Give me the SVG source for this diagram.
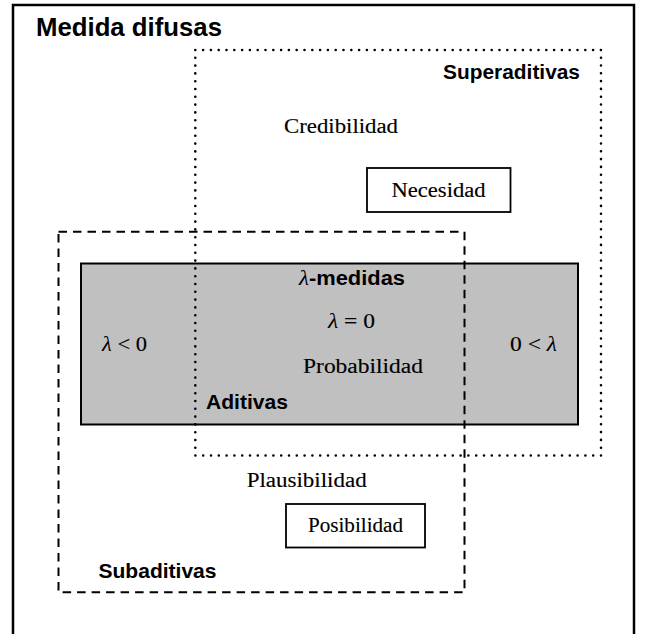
<svg xmlns="http://www.w3.org/2000/svg" width="646" height="634" viewBox="0 0 646 634">
<style>
.frame{fill:none;stroke:#000;stroke-width:2.5}
.dotted{fill:none;stroke:#000;stroke-width:2.6;stroke-linecap:round;stroke-dasharray:0 7.8}
.dashed{fill:none;stroke:#000;stroke-width:2;stroke-dasharray:8.5 6}
.gray{fill:#c0c0c0;stroke:#000;stroke-width:2}
.box{fill:#fff;stroke:#000;stroke-width:1.8}
.title{font-family:"Liberation Sans",Arial,sans-serif;font-weight:bold;fill:#000}
.serif{font-family:"Liberation Serif","Times New Roman",serif;font-size:20px;fill:#000;stroke:#000;stroke-width:0.15}
.ital{font-family:"Liberation Serif","Times New Roman",serif;font-style:italic;stroke:none}
</style>
<rect width="646" height="634" fill="#fff"/>
<g id="outer">
<rect class="frame" x="13" y="5" width="621" height="640"/>
<text class="title" x="36" y="36" font-size="26" textLength="186" lengthAdjust="spacingAndGlyphs">Medida difusas</text>
</g>
<g id="lambda-medidas">
<rect class="gray" x="81" y="263.5" width="497" height="161"/>
<text x="299" y="285" font-size="20" textLength="106" lengthAdjust="spacingAndGlyphs"><tspan class="ital" font-size="21">λ</tspan><tspan class="title">-medidas</tspan></text>
<text class="serif" x="351.5" y="328" text-anchor="middle" textLength="47" lengthAdjust="spacingAndGlyphs"><tspan class="ital">λ</tspan> = 0</text>
<text class="serif" x="124.5" y="351" text-anchor="middle" textLength="45" lengthAdjust="spacingAndGlyphs"><tspan class="ital">λ</tspan> &lt; 0</text>
<text class="serif" x="533.5" y="351" text-anchor="middle" textLength="47" lengthAdjust="spacingAndGlyphs">0 &lt; <tspan class="ital">λ</tspan></text>
<text class="serif" x="363" y="372.5" text-anchor="middle" textLength="120" lengthAdjust="spacingAndGlyphs">Probabilidad</text>
<text class="title" x="206" y="408.5" font-size="20.5" textLength="82" lengthAdjust="spacingAndGlyphs">Aditivas</text>
</g>
<g id="superaditivas">
<rect class="dotted" x="195.3" y="50" width="405.7" height="405.5"/>
<text class="title" x="580" y="78.5" font-size="20" text-anchor="end" textLength="137" lengthAdjust="spacingAndGlyphs">Superaditivas</text>
<text class="serif" x="341" y="133.3" text-anchor="middle" textLength="114" lengthAdjust="spacingAndGlyphs">Credibilidad</text>
</g>
<g id="necesidad">
<rect class="box" x="367" y="168" width="143.5" height="44"/>
<text class="serif" x="438.5" y="197" text-anchor="middle" textLength="94" lengthAdjust="spacingAndGlyphs">Necesidad</text>
</g>
<g id="subaditivas">
<rect class="dashed" x="58.5" y="231.7" width="406" height="360.6"/>
<text class="serif" x="306.7" y="486.5" text-anchor="middle" textLength="120" lengthAdjust="spacingAndGlyphs">Plausibilidad</text>
<text class="title" x="98.5" y="578.3" font-size="21" textLength="118" lengthAdjust="spacingAndGlyphs">Subaditivas</text>
</g>
<g id="posibilidad">
<rect class="box" x="286" y="504" width="139" height="43.5"/>
<text class="serif" x="355.5" y="531.5" text-anchor="middle" textLength="95" lengthAdjust="spacingAndGlyphs">Posibilidad</text>
</g>
<g id="connectors"/>
</svg>
